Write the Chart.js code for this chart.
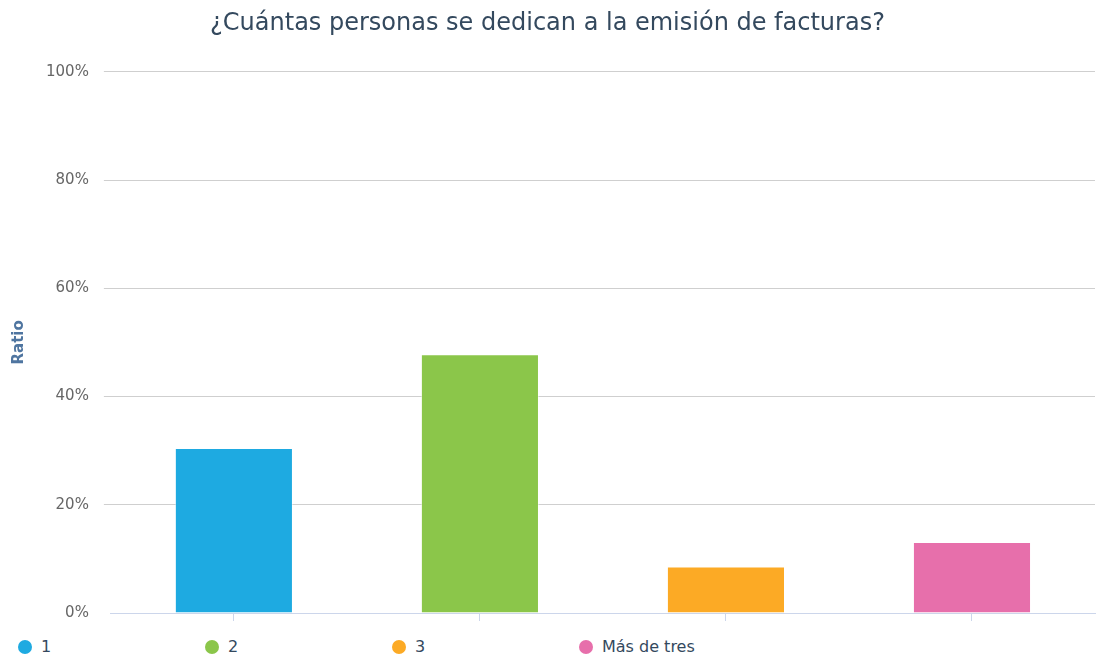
<!DOCTYPE html>
<html>
<head>
<meta charset="utf-8">
<script src="https://cdn.jsdelivr.net/npm/chart.js@4.4.0/dist/chart.umd.min.js"></script>
<style>
  html, body { margin: 0; padding: 0; background: #fff; }
  #wrap { position: relative; width: 1099px; height: 637px; }
  #legend { display: flex; padding-left: 18px; margin-top: 0; font-family: "DejaVu Sans", sans-serif; font-size: 16px; color: #34495e; }
  .item { width: 187px; display: flex; align-items: center; }
  .dot { width: 14px; height: 14px; border-radius: 50%; margin-right: 9px; }
</style>
</head>
<body>
<div id="wrap"><canvas id="chart"></canvas></div>
<div id="legend"></div>
<script>
const categories = ['1', '2', '3', 'Más de tres'];
const ratios = [30.5, 47.8, 8.6, 13.1];
const colors = ['#1eaae1', '#8bc64a', '#fcaa25', '#e76fab'];
const yTicks = [0, 20, 40, 60, 80, 100];

const legend = document.getElementById('legend');
categories.forEach((c, i) => {
    const item = document.createElement('div');
    item.className = 'item';
    item.innerHTML = '<span class="dot" style="background:' + colors[i] + '"></span>' + c;
    legend.appendChild(item);
});

new Chart(document.getElementById('chart'), {
    type: 'bar',
    data: {
        labels: categories,
        datasets: [{
            label: 'Ratio',
            data: ratios,
            backgroundColor: colors,
            borderColor: 'rgba(255,255,255,0.45)',
            borderWidth: 1,
            categoryPercentage: 1,
            barPercentage: 0.48
        }]
    },
    options: {
        responsive: true,
        maintainAspectRatio: false,
        animation: false,
        layout: { padding: { left: 0, right: 4, top: 0, bottom: 0 } },
        plugins: {
            legend: { display: false },
            tooltip: { enabled: false },
            title: {
                display: true,
                text: '¿Cuántas personas se dedican a la emisión de facturas?',
                color: '#34495e',
                font: { family: 'DejaVu Sans', size: 24, weight: 'normal' },
                padding: { top: 9, bottom: 34 }
            }
        },
        scales: {
            x: {
                grid: { display: true, drawOnChartArea: false, drawTicks: true, tickLength: 8, color: '#ccd6eb', offset: false },
                border: { display: true, color: '#ccd6eb', width: 1, z: 1 },
                ticks: { display: false }
            },
            y: {
                min: 0,
                max: 100,
                afterBuildTicks: axis => { axis.ticks = yTicks.map(v => ({ value: v })); },
                grid: {
                    color: ctx => (ctx.tick && ctx.tick.value === 0) ? 'rgba(0,0,0,0)' : '#cfcfcf',
                    tickLength: 7,
                    drawTicks: true
                },
                border: { display: false },
                ticks: {
                    color: '#666666',
                    padding: 15,
                    font: { family: 'DejaVu Sans', size: 15 },
                    callback: v => v + '%'
                },
                title: {
                    display: true,
                    text: 'Ratio',
                    color: '#4f75a0',
                    font: { family: 'DejaVu Sans', size: 15, weight: 'bold' },
                    padding: { top: 10, bottom: 3 }
                }
            }
        }
    }
});
</script>
</body>
</html>
